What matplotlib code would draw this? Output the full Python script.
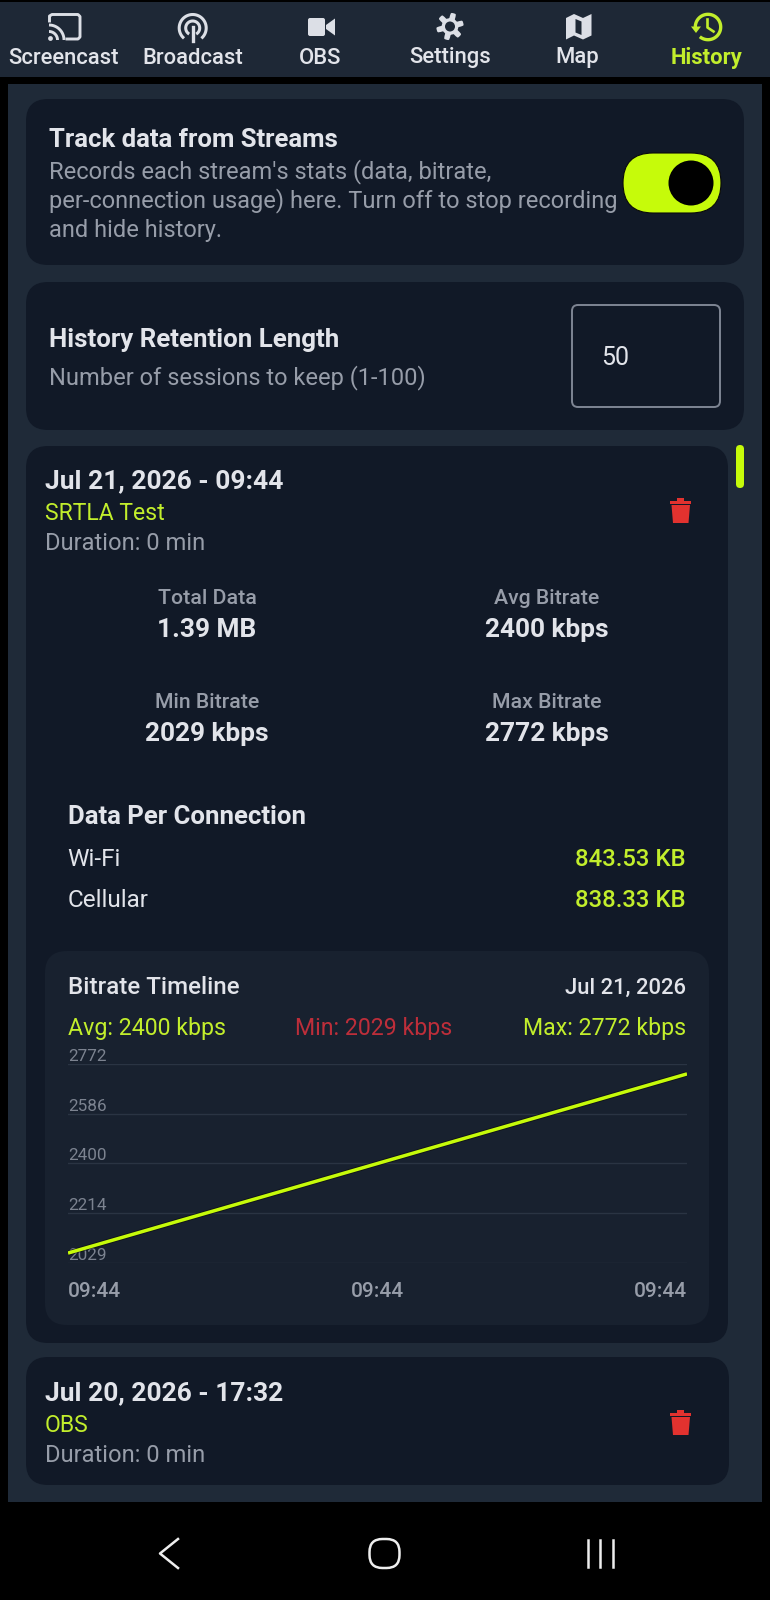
import numpy as np
import matplotlib
matplotlib.use("Agg")
import matplotlib.pyplot as plt
from matplotlib.patches import Circle, FancyBboxPatch, Polygon, Rectangle

plt.rcParams["font.family"] = ["Roboto", "DejaVu Sans"]

W, H = 770, 1600

ACCENT = "#c6fb0a"
ACCENT_TEXT = "#c2ee2c"
RED = "#e2322f"
MIN_RED = "#bd2e3a"
NAV = "#1e2836"
PANEL = "#1f2a38"
CARD = "#111927"
INNER = "#18212f"
WHITE = "#e2e4ea"
GREY = "#979da9"
DIM = "#7c8390"
GRID = "#2a3443"

# chart values
tab_names = ["Screencast", "Broadcast", "OBS", "Settings", "Map", "History"]
tab_x = [63.5, 192.5, 320.5, 450, 577, 706]

stat_labels = ["Total Data", "Avg Bitrate", "Min Bitrate", "Max Bitrate"]
stat_values = ["1.39 MB", "2400 kbps", "2029 kbps", "2772 kbps"]

conn_names = ["Wi-Fi", "Cellular"]
conn_usage = ["843.53 KB", "838.33 KB"]

bitrate_ticks = [2029, 2214, 2400, 2586, 2772]
time_ticks = [0, 1, 2]
time_labels = ["09:44", "09:44", "09:44"]
time_idx = [0, 1, 2]
bitrate = [2065, 2400, 2735]

fig = plt.figure(figsize=(W / 100, H / 100), dpi=100, facecolor="black")
ax = fig.add_axes([0, 0, 1, 1])
ax.set_xlim(0, W)
ax.set_ylim(H, 0)
ax.axis("off")


def box(x0, y0, x1, y1, r, fc, ec="none", lw=0, z=1):
    p = FancyBboxPatch(
        (x0 + r, y0 + r),
        x1 - x0 - 2 * r,
        y1 - y0 - 2 * r,
        boxstyle=f"round,pad={r},rounding_size={r}",
        fc=fc,
        ec=ec,
        lw=lw,
        zorder=z,
    )
    ax.add_patch(p)


def label(x, y, s, size, color=WHITE, weight="normal", ha="left"):
    ax.text(x, y, s, fontsize=size, color=color, weight=weight, ha=ha,
            va="center_baseline", zorder=5)


def arc(cx, cy, r, t0, t1, color, lw):
    # angles run clockwise on screen because the y axis points down
    t = np.radians(np.linspace(t0, t1, 60))
    ax.plot(cx + r * np.cos(t), cy + r * np.sin(t), color=color, lw=lw, zorder=4,
            solid_capstyle="butt")


def trash(cy):
    ax.add_patch(Polygon([(671.5, cy - 6), (690, cy - 6), (688.5, cy + 12), (673, cy + 12)],
                         fc=RED, zorder=4))
    ax.add_patch(Rectangle((670, cy - 10), 21, 2.5, fc=RED, zorder=4))
    ax.add_patch(Rectangle((677, cy - 13), 7, 3, fc=RED, zorder=4))


# backgrounds
ax.add_patch(Rectangle((0, 2), W, 75, fc=NAV, zorder=0))
ax.add_patch(Rectangle((8, 84), 754, 1418, fc=PANEL, zorder=0))
box(26, 99, 744, 265, 22, CARD)
box(26, 282, 744, 430, 22, CARD)
box(26, 446, 728, 1343, 22, CARD)
box(45, 951, 709, 1325, 22, INNER, z=2)
box(26, 1357, 729, 1485, 22, CARD)

# nav icons
ic = "#dcdfe6"
# cast
ax.plot([49.5, 49.5, 52, 78, 80, 80, 78, 67], [21, 16, 14.5, 14.5, 16.5, 37, 39, 39],
        color=ic, lw=2.1, zorder=4, solid_joinstyle="round")
arc(49, 40, 8.5, 270, 360, ic, 2.1)
arc(49, 40, 15, 270, 360, ic, 2.1)
ax.add_patch(Circle((50.5, 38.5), 2.4, fc=ic, zorder=4))
# broadcast
arc(192.7, 28, 13.5, 130, 410, ic, 2.2)
arc(192.7, 28, 7, 120, 420, ic, 2.2)
ax.plot([192.7, 192.7], [27, 41], color=ic, lw=2.4, zorder=4)
# camera
box(308, 18, 325, 36, 2, ic, z=4)
ax.add_patch(Polygon([(326, 25), (335, 18.5), (335, 35.5), (326, 29)], fc=ic, zorder=4))
# gear
ang = np.linspace(0, 2 * np.pi, 97)
rad = 11 + 2.7 * np.clip(2.2 * np.cos(6 * ang + np.pi / 2), -1, 1)
ax.add_patch(Polygon(np.c_[450 + rad * np.cos(ang), 26.5 + rad * np.sin(ang)], fc=ic, zorder=4))
ax.add_patch(Circle((450, 26.5), 5, fc=NAV, zorder=5))
# map
ax.add_patch(Polygon([(566, 18), (574, 14), (583, 18), (591.5, 14), (591.5, 35.5),
                      (583, 39.5), (574, 35.5), (566, 39.5)], fc=ic, zorder=4))
ax.add_patch(Polygon([(575.5, 19), (581.5, 21.5), (581.5, 35), (575.5, 32.5)], fc=NAV, zorder=5))
# history
arc(708, 27, 12.7, 180, 490, ACCENT_TEXT, 2.4)
ax.add_patch(Polygon([(691, 26.5), (701, 26.5), (696, 33)], fc=ACCENT_TEXT, zorder=4))
ax.plot([707.5, 707.5, 713.5], [19.5, 27.5, 31.5], color=ACCENT_TEXT, lw=1.9, zorder=4)

for name, x in zip(tab_names, tab_x):
    active = name == "History"
    label(x, 55.5, name, 15.8, ACCENT_TEXT if active else WHITE,
          "bold" if active else "medium", "center")

# tracking card
label(49, 137.5, "Track data from Streams", 18.5, WHITE, "bold")
label(49, 168.5, "Records each stream's stats (data, bitrate,", 17.05, GREY)
label(49, 198, "per-connection usage) here. Turn off to stop recording", 17.05, GREY)
label(49, 228.5, "and hide history.", 17.05, GREY)
box(623, 153, 721, 213, 30, ACCENT, ec="#0a0a0a", lw=0.8, z=3)
ax.add_patch(Circle((691, 183), 22.5, fc="black", zorder=4))

# retention card
label(49, 338, "History Retention Length", 18.6, WHITE, "bold")
label(49, 374.5, "Number of sessions to keep (1-100)", 17, GREY)
box(572, 305, 720, 407, 6, CARD, ec="#7e8593", lw=1.4, z=3)
label(601, 355.5, "50", 18, WHITE)

# scrollbar
box(736, 445, 744, 488, 4, ACCENT, z=3)

# session card
label(45, 479, "Jul 21, 2026 - 09:44", 19, WHITE, "bold")
label(45, 510.5, "SRTLA Test", 16.6, ACCENT_TEXT)
label(45, 541, "Duration: 0 min", 17.1, GREY)
trash(511)

stat_x = [207, 547, 207, 547]
stat_y = [597, 597, 700.5, 700.5]
for name, val, x, y in zip(stat_labels, stat_values, stat_x, stat_y):
    label(x, y, name, 15.3, GREY, "medium", "center")
    label(x, y + 30.5, val, 18.9, WHITE, "bold", "center")

label(67.5, 814, "Data Per Connection", 18.5, WHITE, "bold")
for name, usage, y in zip(conn_names, conn_usage, [857.5, 898]):
    label(67.5, y, name, 17.5, WHITE)
    label(686, y, usage, 17.2, ACCENT_TEXT, "medium", "right")

label(68, 985.5, "Bitrate Timeline", 17.4, WHITE, "medium")
label(686, 985.5, "Jul 21, 2026", 15.8, WHITE, "medium", "right")
label(68, 1026.5, "Avg: 2400 kbps", 16.7, ACCENT_TEXT)
label(374, 1026.5, "Min: 2029 kbps", 16.7, MIN_RED, ha="center")
label(686, 1026.5, "Max: 2772 kbps", 16.7, ACCENT_TEXT, ha="right")

# bitrate chart
x0, x1, y0, y1 = 68, 687, 1064, 1262.7
chart = fig.add_axes([x0 / W, 1 - y1 / H, (x1 - x0) / W, (y1 - y0) / H], facecolor="none")
chart.set_zorder(3)
chart.plot(time_idx, bitrate, color="#0a0a0a", lw=3.8, solid_capstyle="butt", alpha=0.6)
chart.plot(time_idx, bitrate, color=ACCENT, lw=2.5, solid_capstyle="butt")
chart.set_xlim(0, 2)
chart.set_ylim(min(bitrate_ticks), max(bitrate_ticks))
chart.set_yticks(bitrate_ticks, [str(v) for v in bitrate_ticks], ha="left", va="bottom")
chart.set_xticks(time_ticks, time_labels)
for tl, ha in zip(chart.get_xticklabels(), ["left", "center", "right"]):
    tl.set_ha(ha)
    tl.set_weight("medium")
chart.tick_params(axis="y", length=0, pad=0, labelsize=12.3, labelcolor=DIM)
chart.tick_params(axis="x", length=0, pad=14, labelsize=15, labelcolor=GREY)
chart.grid(axis="y", color=GRID, lw=1)
for s in chart.spines.values():
    s.set_visible(False)

# next session
label(45, 1391, "Jul 20, 2026 - 17:32", 19, WHITE, "bold")
label(45, 1422.5, "OBS", 16.6, ACCENT_TEXT)
label(45, 1453, "Duration: 0 min", 17.1, GREY)
trash(1423)

# android nav bar
sys_c = "#eeeeee"
ax.plot([178, 160, 178], [1539, 1553.5, 1568], color=sys_c, lw=1.8, zorder=4)
box(369.5, 1539, 399.5, 1568, 13, "none", ec=sys_c, lw=1.8, z=4)
for x in (588, 600, 612.5):
    ax.plot([x, x], [1540, 1567], color=sys_c, lw=1.8, zorder=4)

fig.savefig("out.png", dpi=100, facecolor="black")
